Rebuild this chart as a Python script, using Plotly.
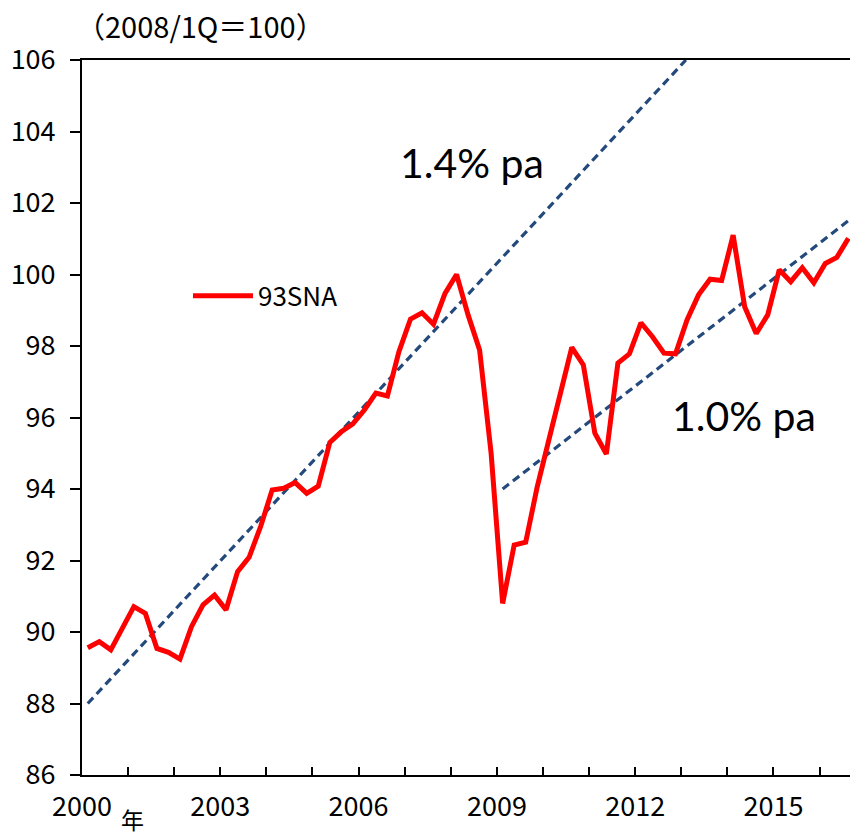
import plotly.graph_objects as go

# ---- data ----
start_year = 2000
gdp_93sna = [
    89.56, 89.73, 89.50, 90.13, 90.71, 90.52, 89.54, 89.43,
    89.24, 90.15, 90.76, 91.03, 90.62, 91.69, 92.09, 92.95,
    93.97, 94.02, 94.18, 93.88, 94.08, 95.30, 95.60, 95.82,
    96.21, 96.68, 96.60, 97.84, 98.75, 98.93, 98.61, 99.47,
    100.00, 98.87, 97.89, 95.00, 90.80, 92.43, 92.51, 94.06,
    95.37, 96.54, 97.96, 97.47, 95.56, 94.98, 97.52, 97.78,
    98.65, 98.26, 97.80, 97.78, 98.73, 99.43, 99.87, 99.83,
    101.10, 99.10, 98.35, 98.87, 100.13, 99.80, 100.19, 99.77,
    100.31, 100.48, 101.01,
]
quarter_x = [start_year + (i + 0.5) / 4 for i in range(len(gdp_93sna))]

trend1_x = [2000.125, 2013.10]
trend1_y = [88.0, 106.0]
trend1_label = "1.4% pa"
trend2_x = [2009.125, 2016.70]
trend2_y = [94.0, 101.58]
trend2_label = "1.0% pa"

year_ticks = list(range(2000, 2017))
year_labels = [str(y) if (y - 2000) % 3 == 0 else "" for y in year_ticks]
y_ticks = list(range(86, 107, 2))

series_name = "93SNA"
unit_label = "（2008/1Q＝100）"
year_suffix = "年"

# ---- styling ----
GOTHIC = "Noto Sans CJK JP, sans-serif"
RED = "#FF0000"
BLUE = "#244A7C"

fig = go.Figure()
fig.add_trace(go.Scatter(x=trend1_x, y=trend1_y, mode="lines",
                         line=dict(color=BLUE, width=3.2, dash="8px,5px"),
                         showlegend=False, hoverinfo="skip"))
fig.add_trace(go.Scatter(x=trend2_x, y=trend2_y, mode="lines",
                         line=dict(color=BLUE, width=3.2, dash="8px,5px"),
                         showlegend=False, hoverinfo="skip"))
fig.add_trace(go.Scatter(x=quarter_x, y=gdp_93sna, mode="lines", name=series_name,
                         line=dict(color=RED, width=5)))

fig.add_annotation(x=2008.45, y=103.13, text=trend1_label, showarrow=False,
                   font=dict(family="Lato, Noto Sans, sans-serif", size=41, color="black"))
fig.add_annotation(x=2014.35, y=96.05, text=trend2_label, showarrow=False,
                   font=dict(family="Lato, Noto Sans, sans-serif", size=41, color="black"))
fig.add_annotation(xref="paper", yref="paper", x=0.0, y=1.0, yshift=35, xshift=-8,
                   xanchor="left", yanchor="middle", text=unit_label, showarrow=False,
                   font=dict(family=GOTHIC, size=29, color="black"))
fig.add_annotation(xref="x", yref="paper", x=2001.1, y=0, yshift=-44,
                   xanchor="center", yanchor="middle", text=year_suffix, showarrow=False,
                   font=dict(family=GOTHIC, size=23, color="black"))

fig.update_layout(
    width=850, height=836,
    margin=dict(l=82, r=0, t=60, b=61, autoexpand=False),
    paper_bgcolor="white", plot_bgcolor="white",
    font=dict(family=GOTHIC, size=28, color="black"),
    legend=dict(x=0.138, y=0.67, xanchor="left", yanchor="middle",
                bgcolor="rgba(0,0,0,0)", font=dict(family=GOTHIC, size=26),
                itemwidth=60),
    showlegend=True,
)
fig.update_xaxes(range=[2000, 2016.66], tickmode="array", tickvals=year_ticks,
                 ticktext=year_labels, ticks="inside", ticklen=8, tickwidth=2,
                 tickcolor="black", showline=True, linewidth=2, linecolor="black",
                 mirror=True, showgrid=False, zeroline=False, ticklabelstandoff=7,
                 automargin=False, tickfont=dict(family=GOTHIC, size=27))
fig.update_yaxes(range=[86, 106], tickmode="array", tickvals=y_ticks,
                 ticks="outside", ticklen=10, tickwidth=2, tickcolor="black",
                 showline=True, linewidth=2, linecolor="black",
                 showgrid=False, zeroline=False, ticklabelstandoff=9,
                 automargin=False, tickfont=dict(family=GOTHIC, size=27))

# remove the page's default body margin so the figure fills the window exactly
fig.write_html("out.html", config={"displayModeBar": False},
               post_script="document.body.style.margin='0';document.body.style.overflow='hidden';")
